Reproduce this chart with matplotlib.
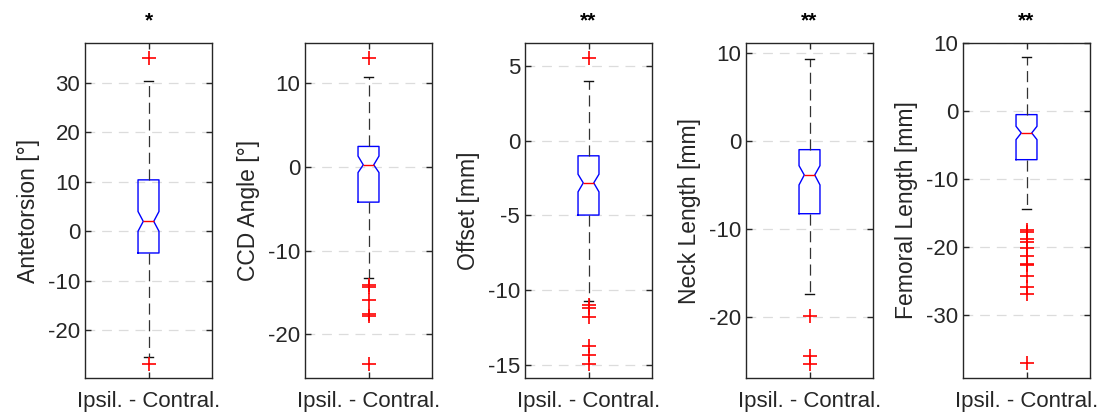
import matplotlib
matplotlib.use("Agg")
import matplotlib.pyplot as plt

plt.rcParams['font.family'] = ['Liberation Sans', 'DejaVu Sans']
plt.rcParams['axes.unicode_minus'] = False
plt.rcParams['lines.scale_dashes'] = False

# ---- data ----
ylabels = ["Antetorsion [°]", "CCD Angle [°]", "Offset [mm]", "Neck Length [mm]", "Femoral Length [mm]"]
titles = ["*", "", "**", "**", "**"]
xticklabel = "Ipsil. - Contral."

medians = [2.0, 0.25, -2.83, -3.9, -3.24]
q1 = [-4.4, -4.2, -4.98, -8.3, -7.17]
q3 = [10.4, 2.45, -1.02, -1.02, -0.54]
notch_lo = [0.0, -0.67, -3.43, -5.03, -4.22]
notch_hi = [4.0, 1.3, -2.25, -2.84, -2.26]
whisk_lo = [-25.5, -13.2, -10.73, -17.4, -14.4]
whisk_hi = [30.5, 10.7, 4.0, 9.3, 7.9]
outliers = [
    [35.0, -26.9],
    [13.0, -14.1, -14.3, -15.9, -17.5, -17.8, -23.5],
    [5.53, -11.0, -11.2, -11.8, -13.7, -14.35, -14.95],
    [-19.9, -24.5, -25.4],
    [-17.5, -17.8, -18.8, -19.3, -20.1, -21.3, -22.5, -22.7, -24.3, -25.9, -26.9, -37.1],
]
ylims = [(-29.7, 38.1), (-25.2, 14.8), (-15.87, 6.52), (-26.97, 11.1), (-39.3, 10.0)]
yticks = [
    [-20, -10, 0, 10, 20, 30],
    [-20, -10, 0, 10],
    [-15, -10, -5, 0, 5],
    [-20, -10, 0, 10],
    [-30, -20, -10, 0, 10],
]

# ---- layout ----
W, H = 1099, 415
fig = plt.figure(figsize=(W / 100, H / 100), dpi=100)
lefts_px = [85, 305, 525, 746, 963]
width_px = 127
top_px, bottom_px = 43, 378

edge = '#262626'
for i in range(5):
    ax = fig.add_axes([lefts_px[i] / W, (H - bottom_px) / H,
                       width_px / W, (bottom_px - top_px) / H])
    stats = [dict(med=medians[i], q1=q1[i], q3=q3[i],
                  cilo=notch_lo[i], cihi=notch_hi[i],
                  whislo=whisk_lo[i], whishi=whisk_hi[i],
                  fliers=outliers[i], label=xticklabel)]
    ax.bxp(stats, positions=[1], widths=[0.165], shownotches=True,
           capwidths=[0.07],
           boxprops=dict(color='#0000ff', linewidth=1.0),
           medianprops=dict(color='#ff0000', linewidth=1.0),
           whiskerprops=dict(color='#333333', linewidth=0.9, linestyle=(0, (8.0, 4.0))),
           capprops=dict(color='#111111', linewidth=1.0),
           flierprops=dict(marker='+', markeredgecolor='#ff0000', markersize=10,
                           markeredgewidth=1.2, linestyle='none'))
    ax.set_xlim(0.5, 1.5)
    ax.set_ylim(*ylims[i])
    ax.set_yticks(yticks[i])
    ax.yaxis.grid(True, color='#dcdcdc', linestyle=(0, (7, 5)), linewidth=0.9)
    ax.set_axisbelow(True)
    ax.tick_params(direction='in', length=4, width=1.0, color=edge,
                   labelcolor=edge, labelsize=16, top=True, right=True)
    ax.tick_params(axis='x', pad=9)
    for s in ax.spines.values():
        s.set_color(edge)
        s.set_linewidth(1.0)
    ax.set_ylabel(ylabels[i], fontsize=16.5, color=edge, labelpad=6)
    if titles[i]:
        ax.set_title(titles[i], fontsize=15, fontweight='bold', pad=12)

fig.savefig("out.png", dpi=100)
